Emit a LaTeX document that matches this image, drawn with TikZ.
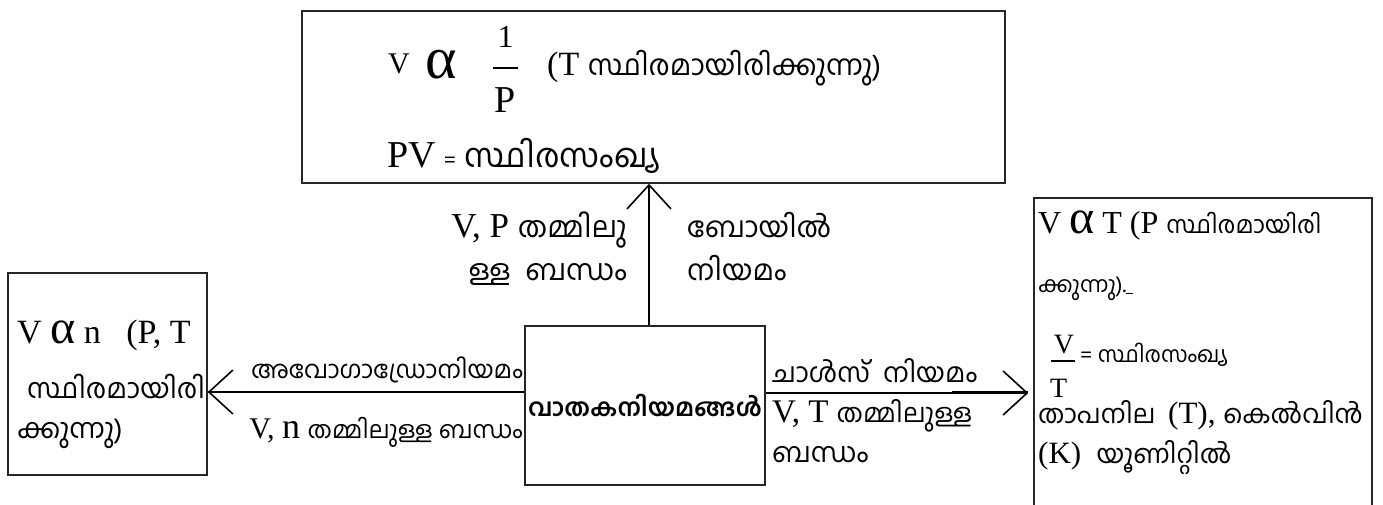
\documentclass[tikz,border=0pt]{standalone}
\usepackage{fontspec}
\setmainfont{Liberation Serif}
\newfontfamily\mlfont[Script=Malayalam]{Hind Kochi}
\usetikzlibrary{arrows.meta}
\newcommand{\lat}[1]{\fontsize{#1}{#1}\selectfont\rmfamily}
\newcommand{\mal}[1]{\fontsize{#1}{#1}\selectfont\mlfont}

\tikzset{
  box/.style={draw=black!85, line width=1.5pt, inner sep=0pt},
  txt/.style={inner sep=0pt, anchor=base west},
  txtr/.style={inner sep=0pt, anchor=base east},
  barb/.style={-{Straight Barb[length=24pt,width=44pt,line width=1.6pt]}, line width=1.2pt},
}

\begin{document}
\begin{tikzpicture}[x=1pt,y=1pt,yscale=-1,xscale=1]
\useasboundingbox (0,0) rectangle (1383,504);

%Shape: Rectangle [boyle]
\node[box, minimum width=703, minimum height=172] (boyle) at (653.5,97) {};
%Shape: Rectangle [avogadro]
\node[box, minimum width=199, minimum height=202] (avog) at (107.5,374) {};
%Shape: Rectangle [charles]
\node[box, minimum width=338, minimum height=312] (charles) at (1203,354) {};
%Shape: Rectangle [centre]
\node[box, minimum width=240, minimum height=159] (gas) at (645,405.5) {\mal{24.5}\bfseries വാതകനിയമങ്ങൾ};

%Straight Lines
\draw[barb] (gas.north -| 649,0) -- (boyle.south -| 649,0);
\draw[barb] (gas.west |- 0,392) -- (avog.east |- 0,392);
\draw[line width=2.6pt] (avog.east |- 0,392) -- ++(78,0);
\draw[barb, shorten >=5pt] (gas.east |- 0,393) -- (charles.west |- 0,393);
\draw[line width=2.6pt] (charles.west |- 0,392) ++(-81,0) -- ++(76,0);

% Text Node
\node[txt] (vsmall) at (388,73) {\lat{30}V};
% Text Node
\node[txt] (alphaone) at (425,78) {\lat{60}α};
% Text Node
\node[inner sep=0pt, anchor=base] (one) at (505.5,47) {\lat{32}1};
\draw[line width=2pt] (one.south west |- 0,68) ++(-4,0) -- ++(25,0);
% Text Node
\node[inner sep=0pt, anchor=base] (pp) at (505.5,112) {\lat{38}P};
% Text Node
\node[txt] (tconst) at (547,75) {\lat{34}(T \mal{28.5}സ്ഥിരമായിരിക്കുന്നു)};
% Text Node
\node[txt] (pv) at (387,167) {\lat{38}PV\hspace{8pt}\mal{22}=\hspace{9pt}\mal{33}സ്ഥിരസംഖ്യ};

% Text Node
\node[txtr] (vpa) at (627,237) {\lat{35}V, P \mal{29}തമ്മിലു};
% Text Node
\node[txtr] (vpb) at (627,280) {\mal{29}ള്ള\ \ ബന്ധം};
% Text Node
\node[txt] (boya) at (687,237) {\mal{28.5}ബോയിൽ};
% Text Node
\node[txt] (boyb) at (687,280) {\mal{28.5}നിയമം};

% Text Node
\node[txt] (ava) at (17,343) {\lat{34}V {\lat{48}α} n\ \ \ (P, T};
% Text Node
\node[txt] (avb) at (27,398) {\mal{27.5}സ്ഥിരമായിരി};
% Text Node
\node[txt] (avc) at (17,438) {\mal{27.5}ക്കുന്നു)};

% Text Node
\node[txtr] (avla) at (523,378) {\mal{24.5}അവോഗാഡ്രോനിയമം};
% Text Node
\node[txtr] (avlb) at (523,438) {\lat{30}V, {\lat{36}n} \mal{24}തമ്മിലുള്ള ബന്ധം};

% Text Node
\node[txt] (cha) at (772,382) {\mal{27}ചാൾസ്\ \ നിയമം};
% Text Node
\node[txt] (chb) at (772,422) {\lat{33}V, T \mal{26}തമ്മിലുള്ള};
% Text Node
\node[txt] (chc) at (772,462) {\mal{27.5}ബന്ധം};

% Text Node
\node[txt] (cba) at (1038,233) {\lat{32}V {\lat{48}α} T (P \mal{24}സ്ഥിരമായിരി};
% Text Node
\node[txt] (cbb) at (1038,292) {\mal{22}ക്കുന്നു).\underline{\hspace{7pt}}};
% Text Node
\node[inner sep=0pt, anchor=base] (vnum) at (1064,353) {\lat{28}V};
\draw[line width=1.8pt] (vnum.south west |- 0,361) ++(-3,0) -- ++(24,0);
% Text Node
\node[txt] (tden) at (1050,397) {\lat{28}T};
% Text Node
\node[txt] (vt) at (1080,362) {\mal{22}= സ്ഥിരസംഖ്യ};
% Text Node
\node[txt] (cbd) at (1038,423) {\mal{26}താപനില\ \ \lat{31}(T), \mal{26}കെൽവിൻ};
% Text Node
\node[txt] (cbe) at (1038,463) {\lat{31}(K)\ \ \mal{26}യൂണിറ്റിൽ};
\end{tikzpicture}
\end{document}
